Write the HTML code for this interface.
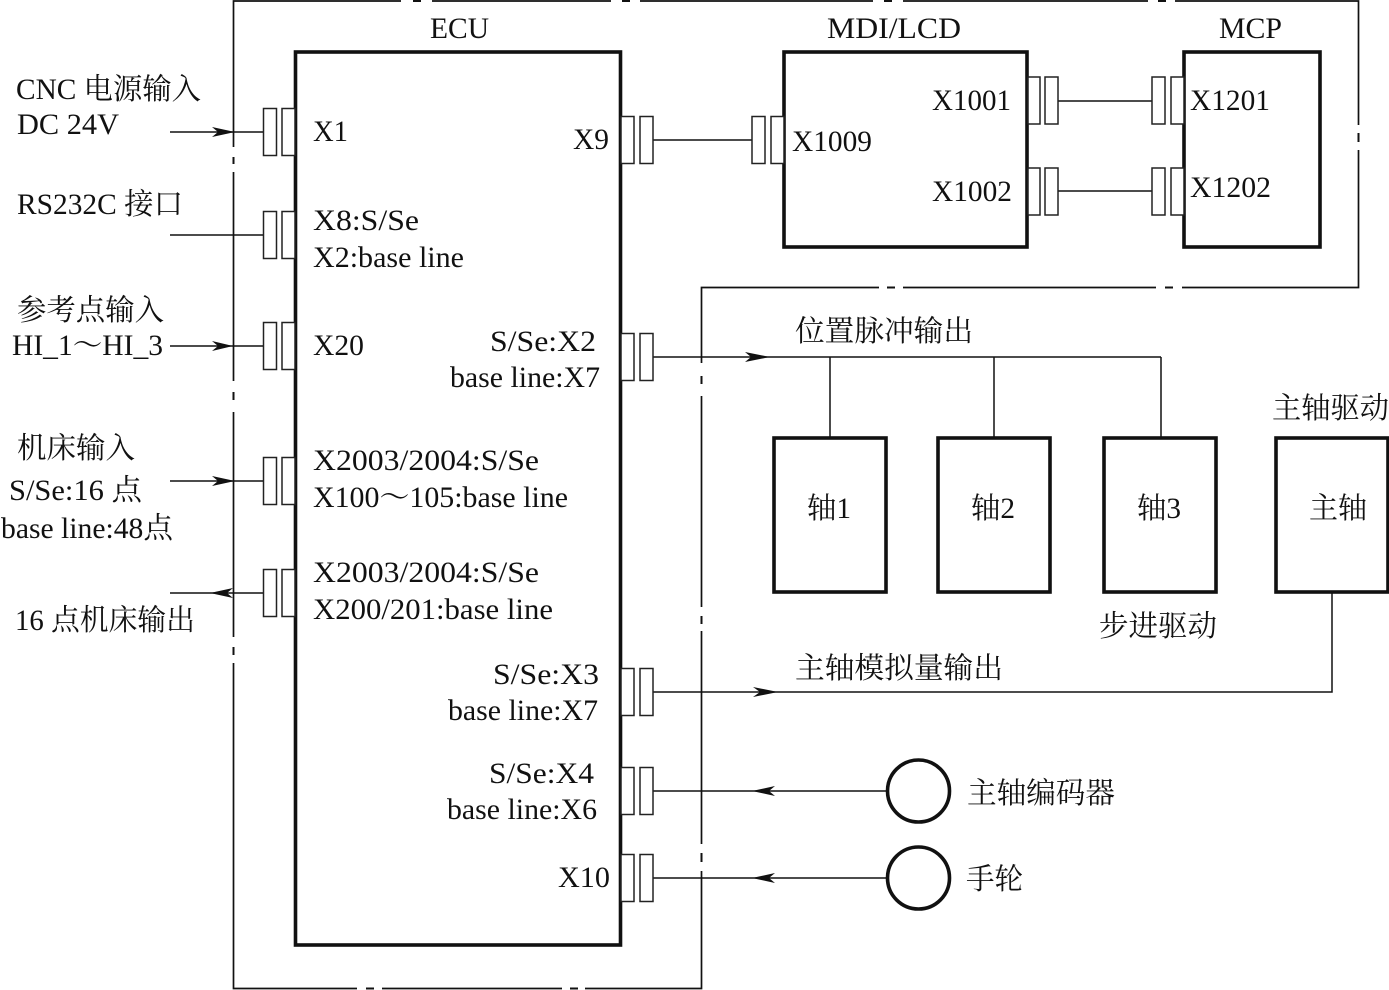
<!DOCTYPE html>
<html><head><meta charset="utf-8"><style>
html,body{margin:0;padding:0;background:#fff}
svg{display:block}
text{font-family:"Liberation Serif","Noto Serif CJK SC",serif;font-size:29.5px;fill:#111}
.o{fill:none;stroke:#111;stroke-width:1.7}
.b{fill:#fff;stroke:#111;stroke-width:3.6}
.c{fill:#fff;stroke:#222;stroke-width:1.5}
.l{stroke:#111;stroke-width:1.5;fill:none}
.a{fill:#111;stroke:none}
.g{fill:#fff;stroke:none}
</style></head><body>
<svg xmlns="http://www.w3.org/2000/svg" width="1389" height="990" viewBox="0 0 1389 990">
<rect width="1389" height="990" fill="#fff"/>
<polygon class="o" points="233.5,1 1358.5,1 1358.5,287.5 701.5,287.5 701.5,988.5 233.5,988.5"/>
<!-- outline gaps -->
<g class="g">
<rect x="401" y="0" width="31" height="4"/><rect x="611" y="0" width="29" height="4"/><rect x="873" y="0" width="30" height="4"/><rect x="1148" y="0" width="27" height="4"/>
<rect x="357" y="985" width="25" height="5"/><rect x="562" y="985" width="23" height="5"/>
<rect x="879" y="285" width="24" height="5"/><rect x="1156" y="285" width="26" height="5"/>
<rect x="1356" y="125" width="5" height="25"/>
<rect x="231" y="147" width="5" height="25"/><rect x="231" y="381" width="5" height="31"/><rect x="231" y="637" width="5" height="26"/>
<rect x="699" y="363" width="5" height="33"/><rect x="699" y="607" width="5" height="24"/><rect x="699" y="844" width="5" height="27"/>
</g>
<g class="a">
<rect x="413" y="0" width="8" height="2"/><rect x="622" y="0" width="8" height="2"/><rect x="884" y="0" width="8" height="2"/><rect x="1158" y="0" width="8" height="2"/>
<rect x="366" y="987.5" width="8" height="2"/><rect x="570" y="987.5" width="8" height="2"/>
<rect x="887" y="286.5" width="8" height="2"/><rect x="1165" y="286.5" width="8" height="2"/>
<rect x="1357.5" y="133" width="2" height="9"/>
<rect x="232.5" y="157" width="2" height="7"/><rect x="232.5" y="392" width="2" height="8"/><rect x="232.5" y="647" width="2" height="8"/>
<rect x="700.5" y="376" width="2" height="8"/><rect x="700.5" y="616" width="2" height="8"/><rect x="700.5" y="853" width="2" height="9"/>
</g>
<!-- connector lines -->
<path class="l" d="M170 132H263M170 235H263M170 346H263M170 481H263M170 593H263M653 140H752M1058 101H1152M1058 191H1152M653 357H1161M830 357V438M994 357V438M1161 357V438M653 692H1332V592M653 791H888M653 878H888"/>
<!-- boxes -->
<rect class="b" x="295.5" y="52" width="325" height="893"/>
<rect class="b" x="784" y="52" width="243" height="195"/>
<rect class="b" x="1184" y="52" width="136" height="195"/>
<rect class="b" x="774" y="438" width="112" height="154"/>
<rect class="b" x="938" y="438" width="112" height="154"/>
<rect class="b" x="1104" y="438" width="112" height="154"/>
<rect class="b" x="1276" y="438" width="112" height="154"/>
<circle class="b" cx="918.5" cy="791" r="31"/>
<circle class="b" cx="918.5" cy="878" r="31"/>
<!-- connector blocks -->
<g class="c">
<rect x="263.5" y="108.5" width="13" height="47"/><rect x="282" y="108.5" width="13" height="47"/>
<rect x="263.5" y="211.5" width="13" height="47"/><rect x="282" y="211.5" width="13" height="47"/>
<rect x="263.5" y="322.5" width="13" height="47"/><rect x="282" y="322.5" width="13" height="47"/>
<rect x="263.5" y="457.5" width="13" height="47"/><rect x="282" y="457.5" width="13" height="47"/>
<rect x="263.5" y="569.5" width="13" height="47"/><rect x="282" y="569.5" width="13" height="47"/>
<rect x="621" y="116.5" width="13" height="47"/><rect x="640" y="116.5" width="13" height="47"/>
<rect x="621" y="333.5" width="13" height="47"/><rect x="640" y="333.5" width="13" height="47"/>
<rect x="621" y="668.5" width="13" height="47"/><rect x="640" y="668.5" width="13" height="47"/>
<rect x="621" y="767.5" width="13" height="47"/><rect x="640" y="767.5" width="13" height="47"/>
<rect x="621" y="854.5" width="13" height="47"/><rect x="640" y="854.5" width="13" height="47"/>
<rect x="752" y="116.5" width="13" height="47"/><rect x="771" y="116.5" width="13" height="47"/>
<rect x="1028" y="77" width="12" height="47"/><rect x="1045" y="77" width="13" height="47"/>
<rect x="1028" y="168" width="12" height="47"/><rect x="1045" y="168" width="13" height="47"/>
<rect x="1152" y="77" width="13" height="47"/><rect x="1171" y="77" width="13" height="47"/>
<rect x="1152" y="168" width="13" height="47"/><rect x="1171" y="168" width="13" height="47"/>
</g>
<!-- arrows -->
<g class="a">
<polygon points="235,132 212,127 218,132 212,137"/>
<polygon points="233,346 212,341 218,346 212,351"/>
<polygon points="235,481 212,476 218,481 212,486"/>
<polygon points="210,593 233,588 227,593 233,598"/>
<polygon points="770,357 745,352 751,357 745,362"/>
<polygon points="778,692 753,687 760,692 753,697"/>
<polygon points="752,791 775,786 769,791 775,796"/>
<polygon points="752,878 775,873 769,878 775,883"/>
</g>
<!-- labels -->
<g>
<text x="430" y="38" textLength="59" lengthAdjust="spacingAndGlyphs">ECU</text>
<text x="827" y="38" textLength="134" lengthAdjust="spacingAndGlyphs">MDI/LCD</text>
<text x="1219" y="38" textLength="63" lengthAdjust="spacingAndGlyphs">MCP</text>
<text x="16" y="99" textLength="185" lengthAdjust="spacingAndGlyphs">CNC 电源输入</text>
<text x="17" y="134" textLength="102" lengthAdjust="spacingAndGlyphs">DC 24V</text>
<text x="17" y="214" textLength="166" lengthAdjust="spacingAndGlyphs">RS232C 接口</text>
<text x="17" y="320" textLength="147" lengthAdjust="spacingAndGlyphs">参考点输入</text>
<text x="12" y="355" textLength="151" lengthAdjust="spacingAndGlyphs">HI_1～HI_3</text>
<text x="313" y="141" textLength="35" lengthAdjust="spacingAndGlyphs">X1</text>
<text x="313" y="230" textLength="106" lengthAdjust="spacingAndGlyphs">X8:S/Se</text>
<text x="313" y="267" textLength="151" lengthAdjust="spacingAndGlyphs">X2:base line</text>
<text x="313" y="355" textLength="51" lengthAdjust="spacingAndGlyphs">X20</text>
<text x="573" y="149" textLength="36" lengthAdjust="spacingAndGlyphs">X9</text>
<text x="792" y="151" textLength="80" lengthAdjust="spacingAndGlyphs">X1009</text>
<text x="932" y="110" textLength="79" lengthAdjust="spacingAndGlyphs">X1001</text>
<text x="932" y="201" textLength="80" lengthAdjust="spacingAndGlyphs">X1002</text>
<text x="1190" y="110" textLength="80" lengthAdjust="spacingAndGlyphs">X1201</text>
<text x="1190" y="197" textLength="81" lengthAdjust="spacingAndGlyphs">X1202</text>
<text x="490" y="351" textLength="106" lengthAdjust="spacingAndGlyphs">S/Se:X2</text>
<text x="450" y="387" textLength="150" lengthAdjust="spacingAndGlyphs">base line:X7</text>
<text x="313" y="470" textLength="226" lengthAdjust="spacingAndGlyphs">X2003/2004:S/Se</text>
<text x="313" y="507" textLength="255" lengthAdjust="spacingAndGlyphs">X100～105:base line</text>
<text x="313" y="582" textLength="226" lengthAdjust="spacingAndGlyphs">X2003/2004:S/Se</text>
<text x="313" y="619" textLength="240" lengthAdjust="spacingAndGlyphs">X200/201:base line</text>
<text x="17" y="458" textLength="118" lengthAdjust="spacingAndGlyphs">机床输入</text>
<text x="9" y="500" textLength="133" lengthAdjust="spacingAndGlyphs">S/Se:16 点</text>
<text x="1" y="538" textLength="172" lengthAdjust="spacingAndGlyphs">base line:48点</text>
<text x="15" y="630" textLength="180" lengthAdjust="spacingAndGlyphs">16 点机床输出</text>
<text x="493" y="684" textLength="106" lengthAdjust="spacingAndGlyphs">S/Se:X3</text>
<text x="448" y="720" textLength="150" lengthAdjust="spacingAndGlyphs">base line:X7</text>
<text x="489" y="783" textLength="105" lengthAdjust="spacingAndGlyphs">S/Se:X4</text>
<text x="447" y="819" textLength="150" lengthAdjust="spacingAndGlyphs">base line:X6</text>
<text x="558" y="887" textLength="52" lengthAdjust="spacingAndGlyphs">X10</text>
<text x="795" y="341" textLength="178" lengthAdjust="spacingAndGlyphs">位置脉冲输出</text>
<text x="795" y="678" textLength="208" lengthAdjust="spacingAndGlyphs">主轴模拟量输出</text>
<text x="1099" y="636" textLength="118" lengthAdjust="spacingAndGlyphs">步进驱动</text>
<text x="1272" y="418" textLength="117" lengthAdjust="spacingAndGlyphs">主轴驱动</text>
<text x="807" y="518" textLength="44" lengthAdjust="spacingAndGlyphs">轴1</text>
<text x="971" y="518" textLength="44" lengthAdjust="spacingAndGlyphs">轴2</text>
<text x="1137" y="518" textLength="44" lengthAdjust="spacingAndGlyphs">轴3</text>
<text x="1309" y="518" textLength="58" lengthAdjust="spacingAndGlyphs">主轴</text>
<text x="967" y="803" textLength="148" lengthAdjust="spacingAndGlyphs">主轴编码器</text>
<text x="966" y="889" textLength="57" lengthAdjust="spacingAndGlyphs">手轮</text>
</g>
</svg>
</body></html>
